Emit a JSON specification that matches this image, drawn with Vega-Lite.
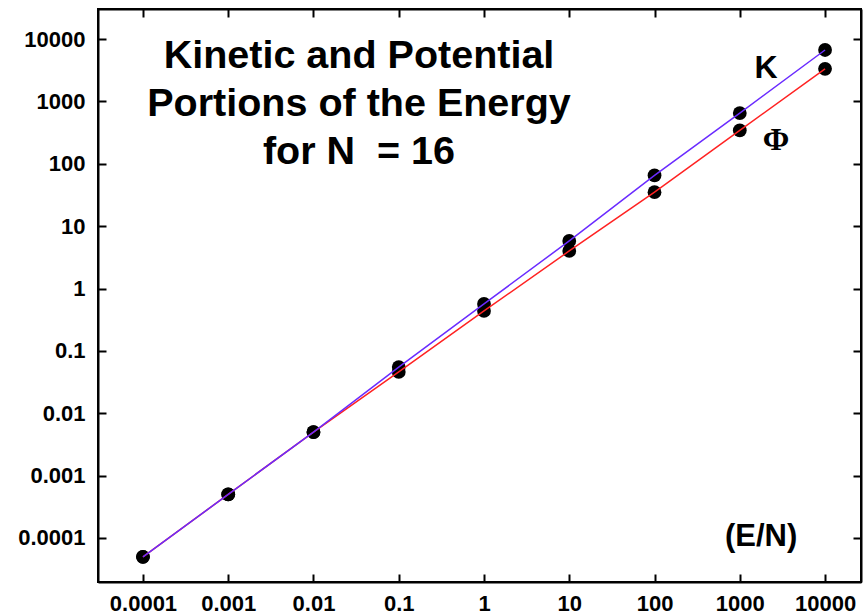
{
  "$schema": "https://vega.github.io/schema/vega-lite/v6.json",
  "width": 763,
  "height": 573,
  "autosize": {"type": "none"},
  "padding": {"left": 98, "top": 9, "right": 4, "bottom": 32},
  "background": "white",
  "config": {
    "view": {"stroke": "black", "strokeWidth": 2},
    "axis": {
      "grid": false,
      "domain": true,
      "domainColor": "black",
      "domainWidth": 2,
      "ticks": true,
      "tickSize": -8,
      "tickWidth": 2,
      "tickColor": "black",
      "labelFont": "Liberation Sans",
      "labelFontWeight": "bold",
      "labelFontSize": 22,
      "labelColor": "black",
      "title": null
    }
  },
  "datasets": {
    "energy": [
      {"E": 0.0001, "series": "K", "value": 0.00005},
      {"E": 0.001, "series": "K", "value": 0.0005},
      {"E": 0.01, "series": "K", "value": 0.005},
      {"E": 0.1, "series": "K", "value": 0.055},
      {"E": 1, "series": "K", "value": 0.566},
      {"E": 10, "series": "K", "value": 5.8},
      {"E": 100, "series": "K", "value": 65},
      {"E": 1000, "series": "K", "value": 650},
      {"E": 10000, "series": "K", "value": 6670},
      {"E": 0.0001, "series": "Phi", "value": 0.00005},
      {"E": 0.001, "series": "Phi", "value": 0.0005},
      {"E": 0.01, "series": "Phi", "value": 0.005},
      {"E": 0.1, "series": "Phi", "value": 0.046},
      {"E": 1, "series": "Phi", "value": 0.437},
      {"E": 10, "series": "Phi", "value": 4.0},
      {"E": 100, "series": "Phi", "value": 35},
      {"E": 1000, "series": "Phi", "value": 343},
      {"E": 10000, "series": "Phi", "value": 3330}
    ],
    "single": [{"label": "annotation"}]
  },
  "data": {"name": "energy"},
  "resolve": {"axis": {"x": "independent", "y": "independent"}},
  "layer": [
    {
      "mark": {"type": "circle", "size": 190, "color": "black", "opacity": 1},
      "encoding": {
        "x": {
          "field": "E", "type": "quantitative",
          "scale": {"type": "log", "domain": [0.0000297, 26400], "nice": false},
          "axis": {"values": [0.0001, 0.001, 0.01, 0.1, 1, 10, 100, 1000, 10000], "format": "~g", "labelPadding": 19, "labelFlush": false}
        },
        "y": {
          "field": "value", "type": "quantitative",
          "scale": {"type": "log", "domain": [0.0000197, 30300], "nice": false},
          "axis": {"values": [0.0001, 0.001, 0.01, 0.1, 1, 10, 100, 1000, 10000], "format": "~g", "labelPadding": 21}
        }
      }
    },
    {
      "transform": [{"filter": "datum.series === 'Phi'"}],
      "mark": {"type": "line", "color": "#ff2222", "strokeWidth": 1.5},
      "encoding": {
        "x": {"field": "E", "type": "quantitative", "axis": null},
        "y": {"field": "value", "type": "quantitative", "axis": null}
      }
    },
    {
      "transform": [{"filter": "datum.series === 'K'"}],
      "mark": {"type": "line", "color": "#6a2bff", "strokeWidth": 1.5},
      "encoding": {
        "x": {"field": "E", "type": "quantitative", "axis": null},
        "y": {"field": "value", "type": "quantitative", "axis": null}
      }
    },
    {
      "data": {"name": "single"},
      "mark": {
        "type": "text",
        "text": ["Kinetic and Potential", "Portions of the Energy", "for N\u00a0\u00a0= 16"],
        "font": "Liberation Sans", "fontWeight": "bold", "fontSize": 39.5,
        "lineHeight": 48, "align": "center", "baseline": "alphabetic", "color": "black"
      },
      "encoding": {
        "x": {"datum": 0.0342, "type": "quantitative", "axis": null},
        "y": {"datum": 3430, "type": "quantitative", "axis": null}
      }
    },
    {
      "data": {"name": "single"},
      "mark": {"type": "text", "text": "K", "font": "Liberation Sans", "fontWeight": "bold", "fontSize": 32, "align": "center", "baseline": "alphabetic", "color": "black"},
      "encoding": {
        "x": {"datum": 2032, "type": "quantitative", "axis": null},
        "y": {"datum": 2371, "type": "quantitative", "axis": null}
      }
    },
    {
      "data": {"name": "single"},
      "mark": {"type": "text", "text": "Φ", "font": "Liberation Serif", "fontWeight": "bold", "fontSize": 32, "align": "center", "baseline": "alphabetic", "color": "black"},
      "encoding": {
        "x": {"datum": 2660, "type": "quantitative", "axis": null},
        "y": {"datum": 166, "type": "quantitative", "axis": null}
      }
    },
    {
      "data": {"name": "single"},
      "mark": {"type": "text", "text": "(E/N)", "font": "Liberation Sans", "fontWeight": "bold", "fontSize": 31, "align": "center", "baseline": "alphabetic", "color": "black"},
      "encoding": {
        "x": {"datum": 1778, "type": "quantitative", "axis": null},
        "y": {"datum": 0.0000745, "type": "quantitative", "axis": null}
      }
    },
    {
      "mark": {"type": "point", "opacity": 0},
      "encoding": {
        "x": {"field": "E", "type": "quantitative", "axis": {"orient": "top", "values": [0.0001, 0.001, 0.01, 0.1, 1, 10, 100, 1000, 10000], "labels": false}},
        "y": {"field": "value", "type": "quantitative", "axis": {"orient": "right", "values": [0.0001, 0.001, 0.01, 0.1, 1, 10, 100, 1000, 10000], "labels": false}}
      }
    }
  ]
}
